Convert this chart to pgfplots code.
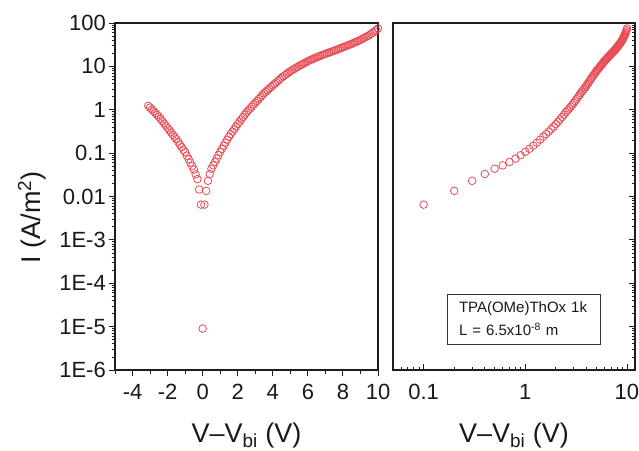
\documentclass[border=0pt]{standalone}
\usepackage{fontspec}
\setmainfont{Liberation Sans}
\usepackage{pgfplots}
\pgfplotsset{compat=1.18}
\usepackage{pgfplotstable}
\definecolor{mred}{RGB}{232,76,86}
\definecolor{spine}{RGB}{30,30,30}

\pgfplotstableread{
x y
-3.1 1.23
-3.0 1.12
-2.9 1.02
-2.8 0.925
-2.7 0.839
-2.6 0.762
-2.5 0.692
-2.4 0.614
-2.3 0.545
-2.2 0.483
-2.1 0.429
-2.0 0.380
-1.9 0.337
-1.8 0.299
-1.7 0.265
-1.6 0.236
-1.5 0.209
-1.4 0.182
-1.3 0.158
-1.2 0.138
-1.1 0.120
-1.0 0.105
-0.9 0.0871
-0.8 0.0724
-0.7 0.0603
-0.6 0.0501
-0.5 0.0417
-0.4 0.0324
-0.3 0.0251
-0.2 0.0145
-0.1 0.0065
0.0 0.000009
}\negdata

\pgfplotstableread{
x y
0.1 0.0065
0.2 0.0135
0.3 0.023
0.4 0.033
0.5 0.0437
0.6 0.0522
0.7 0.0625
0.8 0.0748
0.9 0.0895
1.0 0.107
1.1 0.126
1.2 0.148
1.3 0.174
1.4 0.204
1.5 0.240
1.6 0.274
1.7 0.313
1.8 0.358
1.9 0.409
2.0 0.468
2.1 0.530
2.2 0.600
2.3 0.679
2.4 0.769
2.5 0.871
2.6 0.964
2.7 1.067
2.8 1.180
2.9 1.306
3.0 1.445
3.1 1.600
3.2 1.770
3.3 1.959
3.4 2.168
3.5 2.399
3.6 2.606
3.7 2.831
3.8 3.076
3.9 3.342
4.0 3.631
4.1 3.945
4.2 4.285
4.3 4.656
4.4 5.058
4.5 5.495
4.6 5.888
4.7 6.310
4.8 6.761
4.9 7.244
5.0 7.762
5.1 8.204
5.2 8.670
5.3 9.162
5.4 9.683
5.5 10.23
5.6 10.76
5.7 11.32
5.8 11.91
5.9 12.53
6.0 13.18
6.1 13.74
6.2 14.32
6.3 14.93
6.4 15.56
6.5 16.22
6.6 16.83
6.7 17.46
6.8 18.11
6.9 18.79
7.0 19.50
7.1 20.14
7.2 20.80
7.3 21.48
7.4 22.18
7.5 22.91
7.6 23.77
7.7 24.66
7.8 25.59
7.9 26.55
8.0 27.54
8.1 28.58
8.2 29.65
8.3 30.76
8.4 31.92
8.5 33.11
8.6 34.51
8.7 35.97
8.8 37.50
8.9 39.08
9.0 40.74
9.1 42.85
9.2 45.08
9.3 47.42
9.4 49.89
9.5 52.48
9.6 55.98
9.7 59.70
9.8 63.68
9.9 68.5
10.0 75
}\posdata

\begin{document}
\begin{tikzpicture}
\path[use as bounding box] (0,0) rectangle (639pt,450pt);

\begin{axis}[
  name=leftax,
  at={(115pt,80pt)}, anchor=south west,
  scale only axis, width=263pt, height=347pt,
  xmin=-5, xmax=10,
  ymode=log, ymin=1e-6, ymax=100,
  enlargelimits=false,
  axis line style={spine, line width=1.2pt},
  xtick pos=left, ytick pos=left,
  tick align=outside,
  major tick style={spine, line width=0.9pt},
  minor tick style={spine, line width=0.8pt},
  major tick length=6pt,
  minor tick length=3.5pt,
  xtick={-4,-2,0,2,4,6,8,10},
  xticklabels={-4,-2,0,2,4,6,8,10},
  minor xtick={-5,-3,-1,1,3,5,7,9},
  ytick={1e-6,1e-5,1e-4,1e-3,0.01,0.1,1,10,100},
  yticklabels={1E-6,1E-5,1E-4,1E-3,0.01,0.1,1,10,100},
  minor ytick={2e-6,3e-6,4e-6,5e-6,6e-6,7e-6,8e-6,9e-6,
               2e-5,3e-5,4e-5,5e-5,6e-5,7e-5,8e-5,9e-5,
               2e-4,3e-4,4e-4,5e-4,6e-4,7e-4,8e-4,9e-4,
               2e-3,3e-3,4e-3,5e-3,6e-3,7e-3,8e-3,9e-3,
               0.02,0.03,0.04,0.05,0.06,0.07,0.08,0.09,
               0.2,0.3,0.4,0.5,0.6,0.7,0.8,0.9,
               2,3,4,5,6,7,8,9,20,30,40,50,60,70,80,90},
  ticklabel style={font=\fontsize{22}{26}\selectfont, text=black!90},
  xticklabel style={inner sep=8pt},
  yticklabel style={inner sep=3pt},
  every axis x label/.style={at={(axis description cs:0.5,-0.2075)}, anchor=base, font=\fontsize{27}{32}\selectfont, text=black!90},
  every axis y label/.style={at={(axis description cs:-0.285,0.44)}, rotate=90, anchor=base, font=\fontsize{27}{32}\selectfont, text=black!90},
  xlabel={V\textendash V\textsubscript{bi} (V)},
  ylabel={I (A/m\textsuperscript{2})},
]
\addplot[only marks, mark=o, mark size=3.8pt, color=mred, mark options={line width=0.8pt, draw=mred}] table[x=x,y=y] {\negdata};
\addplot[only marks, mark=o, mark size=3.8pt, color=mred, mark options={line width=0.8pt, draw=mred}] table[x=x,y=y] {\posdata};
\end{axis}

\begin{axis}[
  name=rightax,
  at={(393pt,80pt)}, anchor=south west,
  scale only axis, width=242pt, height=347pt,
  xmode=log, xmin=0.05, xmax=12,
  ymode=log, ymin=1e-6, ymax=100,
  enlargelimits=false,
  axis line style={spine, line width=1.2pt},
  xtick pos=left, ytick pos=right,
  tick align=inside,
  major tick style={spine, line width=0.9pt},
  minor tick style={spine, line width=0.8pt},
  major tick length=6pt,
  minor tick length=3.5pt,
  xtick={0.1,1,10},
  xticklabels={0.1,1,10},
  minor xtick={0.05,0.06,0.07,0.08,0.09,0.2,0.3,0.4,0.5,0.6,0.7,0.8,0.9,2,3,4,5,6,7,8,9},
  ytick={1e-6,1e-5,1e-4,1e-3,0.01,0.1,1,10,100},
  yticklabels={},
  minor ytick={2e-6,3e-6,4e-6,5e-6,6e-6,7e-6,8e-6,9e-6,
               2e-5,3e-5,4e-5,5e-5,6e-5,7e-5,8e-5,9e-5,
               2e-4,3e-4,4e-4,5e-4,6e-4,7e-4,8e-4,9e-4,
               2e-3,3e-3,4e-3,5e-3,6e-3,7e-3,8e-3,9e-3,
               0.02,0.03,0.04,0.05,0.06,0.07,0.08,0.09,
               0.2,0.3,0.4,0.5,0.6,0.7,0.8,0.9,
               2,3,4,5,6,7,8,9,20,30,40,50,60,70,80,90},
  ticklabel style={font=\fontsize{22}{26}\selectfont, text=black!90},
  xticklabel style={inner sep=8pt, yshift=-6pt},
  every axis x label/.style={at={(axis description cs:0.5,-0.2075)}, anchor=base, font=\fontsize{27}{32}\selectfont, text=black!90},
  xlabel={V\textendash V\textsubscript{bi} (V)},
]
\addplot[only marks, mark=o, mark size=3.8pt, color=mred, mark options={line width=0.8pt, draw=mred}] table[x=x,y=y] {\posdata};
\end{axis}

\node[draw=black!80, line width=0.8pt, align=left, text width=129pt,
      inner xsep=12pt, minimum height=50pt,
      font=\fontsize{15}{23}\selectfont, text=black!90]
  at (523.5pt,131pt) {TPA(OMe)ThOx 1k\\L = 6.5x10\textsuperscript{-8} m};
\end{tikzpicture}
\end{document}
